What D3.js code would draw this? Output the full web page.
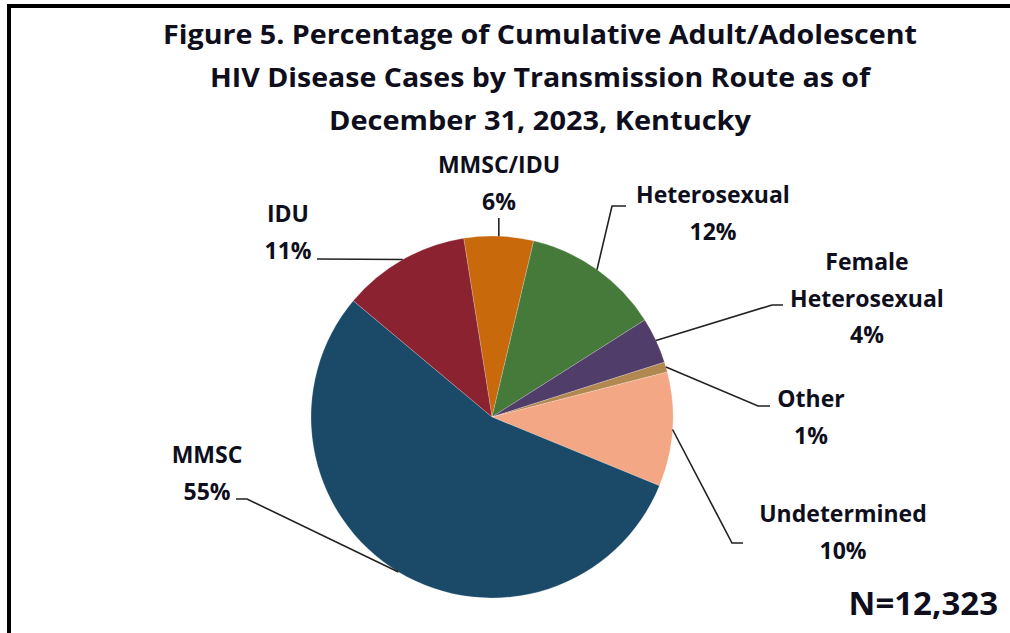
<!DOCTYPE html>
<html>
<head>
<meta charset="utf-8">
<script src="https://cdn.jsdelivr.net/npm/d3@7"></script>
<style>
  html, body { margin: 0; padding: 0; background: #fff; }
  svg { display: block; }
  text { font-family: "Open Sans", sans-serif; font-weight: 700; fill: #0e0e1c; }
</style>
</head>
<body>
<svg id="chart" width="1010" height="633"></svg>
<script>
// ---- data (clockwise order, starting near 12 o'clock) ----
const categories = ["MMSC/IDU", "Heterosexual", "Female Heterosexual", "Other", "Undetermined", "MMSC", "IDU"];
const values = [6.2, 12.3, 4.1, 0.9, 10.2, 54.9, 11.4];
const percentLabels = ["6%", "12%", "4%", "1%", "10%", "55%", "11%"];
const labelLines = [["MMSC/IDU"], ["Heterosexual"], ["Female", "Heterosexual"], ["Other"], ["Undetermined"], ["MMSC"], ["IDU"]];
const colors = ["#c8690c", "#467a3b", "#513d69", "#b08850", "#f3a784", "#1a4a68", "#8b2230"];
const titleLines = [
  "Figure 5. Percentage of Cumulative  Adult/Adolescent",
  "HIV Disease Cases by Transmission  Route as of",
  "December 31, 2023, Kentucky"
];
const totalLabel = "N=12,323";

// ---- layout ----
const svg = d3.select("#chart");
const cx = 492, cy = 417, r = 181;
const startDeg = -9;

// frame
svg.append("rect").attr("x", 9).attr("y", 6).attr("width", 1100).attr("height", 700)
  .attr("fill", "none").attr("stroke", "#000").attr("stroke-width", 4);

// title
const titleBase = [44, 87, 130];
const titleWidths = [754, 660, 422];
titleLines.forEach((t, i) => {
  svg.append("text").attr("x", 540).attr("y", titleBase[i])
    .attr("text-anchor", "middle").attr("font-size", 27.5)
    .attr("textLength", titleWidths[i]).attr("lengthAdjust", "spacingAndGlyphs")
    .text(t);
});

// pie
const data = categories.map((c, i) => ({ cat: c, value: values[i], color: colors[i], pct: percentLabels[i], lines: labelLines[i] }));
const pie = d3.pie().sort(null).value(d => d.value)
  .startAngle(startDeg * Math.PI / 180).endAngle((startDeg + 360) * Math.PI / 180);
const arcs = pie(data);
const arc = d3.arc().innerRadius(0).outerRadius(r);

const g = svg.append("g").attr("transform", `translate(${cx},${cy})`);
g.selectAll("path").data(arcs).join("path")
  .attr("d", arc).attr("fill", d => d.data.color)
  .attr("stroke", "rgba(255,255,255,0.35)").attr("stroke-width", 0.6);

// label placement (layout only): elbow, end point, text centre x, first baseline
const labelLayout = {
  "MMSC/IDU":            { elbow: null,        end: [null, 218], tx: 499, ty: 173 },
  "Heterosexual":        { elbow: [612, 206],  end: [626, 206],  tx: 713, ty: 203 },
  "Female Heterosexual": { elbow: [772, 305],  end: [783, 305],  tx: 867, ty: 270 },
  "Other":               { elbow: [758, 406],  end: [770, 406],  tx: 811, ty: 407 },
  "Undetermined":        { elbow: [732, 543],  end: [743, 543],  tx: 843, ty: 522 },
  "MMSC":                { elbow: [247, 499],  end: [236, 499],  tx: 207, ty: 463 },
  "IDU":                 { elbow: null,        end: [317, 259],  tx: 288, ty: 222 }
};
const lineGap = 36.5;

arcs.forEach(a => {
  const mid = (a.startAngle + a.endAngle) / 2;
  const sx = cx + r * Math.sin(mid), sy = cy - r * Math.cos(mid);
  const L = labelLayout[a.data.cat];
  const pts = [[sx, sy]];
  if (L.elbow) pts.push(L.elbow);
  pts.push([L.end[0] === null ? sx : L.end[0], L.end[1]]);
  svg.append("path").attr("d", d3.line()(pts))
    .attr("fill", "none").attr("stroke", "#222").attr("stroke-width", 1.6);
  const lines = a.data.lines.concat([a.data.pct]);
  lines.forEach((t, i) => {
    svg.append("text").attr("x", L.tx).attr("y", L.ty + i * lineGap)
      .attr("text-anchor", "middle").attr("font-size", 23).text(t);
  });
});

// total
svg.append("text").attr("x", 998).attr("y", 615).attr("text-anchor", "end")
  .attr("font-size", 33).text(totalLabel);
</script>
</body>
</html>
